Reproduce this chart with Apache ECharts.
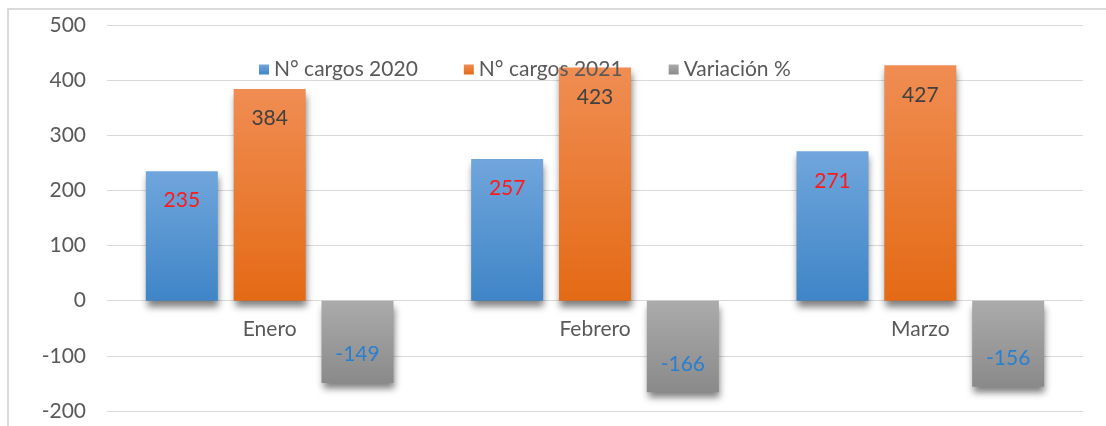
<!DOCTYPE html>
<html>
<head>
<meta charset="utf-8">
<script src="https://cdn.jsdelivr.net/npm/echarts@6/dist/echarts.min.js"></script>
<style>
  html, body { margin: 0; padding: 0; background: #fff; }
  #frame { position: absolute; left: 7px; top: 8px; width: 1200px; height: 500px; border-left: 2px solid #d9d9d9; border-top: 2px solid #d9d9d9; }
  #chart { position: absolute; left: 0; top: 0; width: 1106px; height: 426px; }
</style>
</head>
<body>
<div id="frame"></div>
<div id="chart"></div>
<script>
// données
const meses = ["Enero", "Febrero", "Marzo"];
const cargos2020 = [235, 257, 271];
const cargos2021 = [384, 423, 427];
const variacion = [-149, -166, -156];
const yTicks = [-200, -100, 0, 100, 200, 300, 400, 500];

const chart = echarts.init(document.getElementById("chart"));
const fuente = "Lato, 'Noto Sans', sans-serif";

function degradado(c1, c2) {
    return {
        type: 'linear', x: 0, y: 0, x2: 0, y2: 1,
        colorStops: [{ offset: 0, color: c1 }, { offset: 1, color: c2 }]
    };
}

const sombra = { shadowBlur: 7, shadowOffsetY: 6, shadowOffsetX: 1, shadowColor: 'rgba(0,0,0,0.5)' };

// hauteur de la zone de tracé, pour poser l'axe des catégories sur le zéro
const plotH = 426 - 25 - 15;
const zeroOffset = plotH * (0 - yTicks[0]) / (yTicks[yTicks.length - 1] - yTicks[0]);

chart.setOption({
    animation: false,
    textStyle: { fontFamily: fuente },
    legend: {
        left: 254, top: 54,
        itemWidth: 10, itemHeight: 10, itemGap: 46,
        icon: 'rect',
        textStyle: { fontSize: 21, color: '#595959', fontFamily: fuente },
        data: ["N° cargos 2020", "N° cargos 2021", "Variación %"]
    },
    grid: { left: 107, right: 23, top: 25, bottom: 15, outerBoundsMode: 'none', containLabel: false },
    xAxis: {
        type: 'category',
        data: meses,
        offset: -zeroOffset,
        axisLine: { show: false },
        axisTick: { show: false },
        axisLabel: { color: '#595959', fontSize: 21, margin: 18 }
    },
    yAxis: {
        type: 'value',
        min: yTicks[0], max: yTicks[yTicks.length - 1], interval: 100,
        axisLine: { show: false },
        axisTick: { show: false },
        axisLabel: { color: '#595959', fontSize: 21, margin: 21 },
        splitLine: { lineStyle: { color: '#d9d9d9', width: 1 } }
    },
    series: [
        {
            name: "N° cargos 2020", type: 'bar', data: cargos2020,
            barWidth: 72, barGap: '22%',
            itemStyle: Object.assign({ color: degradado('#70a6dc', '#3f85c7') }, sombra),
            label: { show: true, position: 'insideTop', distance: 19, color: '#ff1a1a', fontSize: 21 }
        },
        {
            name: "N° cargos 2021", type: 'bar', data: cargos2021,
            barWidth: 72,
            itemStyle: Object.assign({ color: degradado('#f08d53', '#e46a15') }, sombra),
            label: { show: true, position: 'insideTop', distance: 19, color: '#404040', fontSize: 21 }
        },
        {
            name: "Variación %", type: 'bar', data: variacion,
            barWidth: 72,
            itemStyle: Object.assign({ color: degradado('#ababab', '#8a8a8a') }, sombra),
            label: { show: true, position: 'insideBottom', distance: 18, color: '#2a7fd0', fontSize: 21 }
        }
    ]
});
</script>
</body>
</html>
